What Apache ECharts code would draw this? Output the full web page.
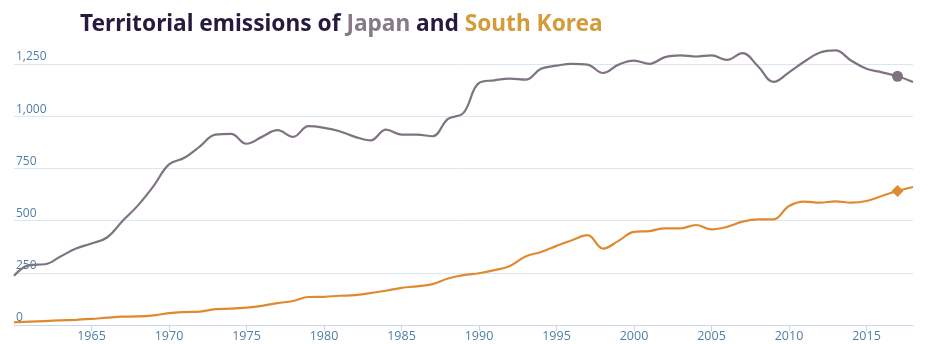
<!DOCTYPE html>
<html>
<head>
<meta charset="utf-8">
<script src="https://cdn.jsdelivr.net/npm/echarts@6/dist/echarts.min.js"></script>
<style>html,body{margin:0;padding:0;background:#fff}#c{width:937px;height:344px}</style>
</head>
<body>
<div id="c"></div>
<script>
const years = [];
for (let y = 1960; y <= 2018; y++) years.push(y);
const japan = [236,287,291,328,366,390,419,498,573,665,769,801,856,912,915,868,901,933,901,952,944,928,901,884,936,912,912,904,987,1016,1159,1172,1180,1175,1227,1242,1251,1247,1207,1247,1266,1251,1283,1291,1286,1291,1270,1302,1239,1164,1210,1262,1305,1315,1267,1227,1210,1191,1164];
const korea = [13,16,19,22,25,29,35,40,41,46,57,62,64,76,78,83,92,105,115,134,135,140,143,153,164,178,185,196,223,239,248,263,283,328,350,379,406,430,366,403,446,450,463,463,479,458,470,495,506,506,570,591,586,592,586,594,618,642,661];
const yTicks = [0,250,500,750,1000,1250];
const markerYear = 2017;

function build(vals, sym) {
  return years.map((y, i) => y === markerYear
    ? { value: [y, vals[i]], symbol: sym, symbolSize: sym === 'diamond' ? 12 : 11 }
    : { value: [y, vals[i]], symbol: 'none' });
}

const chart = echarts.init(document.getElementById('c'), null, { renderer: 'canvas' });
chart.setOption({
  animation: false,
  title: {
    text: '{d|Territorial emissions of }{j|Japan}{d| and }{k|South Korea}',
    left: 75, top: 8,
    textStyle: {
      rich: {
        d: { fontFamily: 'Noto Sans', fontWeight: 'bold', fontSize: 22.7, color: '#261b3e' },
        j: { fontFamily: 'Noto Sans', fontWeight: 'bold', fontSize: 22.7, color: '#857a86' },
        k: { fontFamily: 'Noto Sans', fontWeight: 'bold', fontSize: 22.7, color: '#d49b3a' }
      }
    }
  },
  grid: { left: 14, right: 24, top: 64, bottom: 19, containLabel: false },
  xAxis: {
    type: 'value', min: 1960, max: 2018, interval: 5,
    axisLine: { lineStyle: { color: '#ccd6eb' } },
    axisTick: { show: true, length: 6, lineStyle: { color: '#ccd6eb' } },
    splitLine: { show: false },
    axisLabel: {
      color: '#4f7ea6', fontSize: 12.5, fontFamily: 'Open Sans', margin: 5,
      showMinLabel: false, showMaxLabel: false,
      formatter: v => (v === 1960 ? '' : String(v))
    }
  },
  yAxis: {
    type: 'value', min: 0, max: 1250, interval: 250,
    axisLine: { show: false }, axisTick: { show: false },
    splitLine: { lineStyle: { color: '#d9e8f0', width: 1 } },
    axisLabel: {
      inside: true, margin: 2, verticalAlign: 'bottom', padding: [0, 0, 1, 0],
      color: '#4f7ea6', fontSize: 12, fontFamily: 'Open Sans',
      formatter: v => v.toLocaleString('en-US')
    }
  },
  series: [
    {
      name: 'Japan', type: 'line', smooth: 0.4, clip: false,
      data: build(japan, 'circle'),
      lineStyle: { color: '#7f7381', width: 2.2 },
      itemStyle: { color: '#7f7381' },
      showSymbol: true
    },
    {
      name: 'South Korea', type: 'line', smooth: 0.4, clip: false,
      data: build(korea, 'diamond'),
      lineStyle: { color: '#e08a2f', width: 2.2 },
      itemStyle: { color: '#e08a2f' },
      showSymbol: true
    }
  ]
});
</script>
</body>
</html>
